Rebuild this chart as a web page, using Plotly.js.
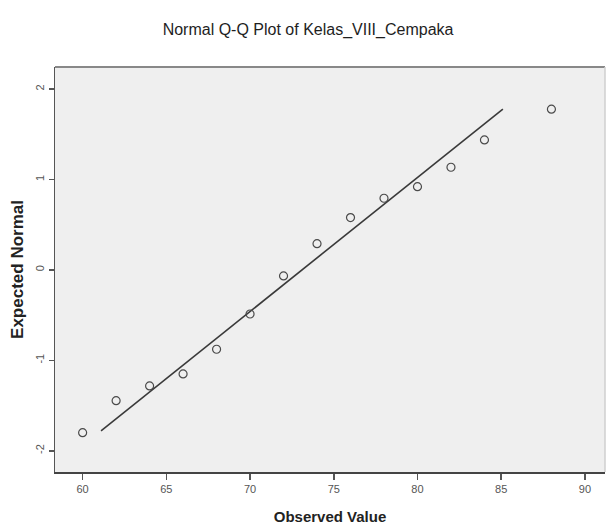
<!DOCTYPE html>
<html>
<head>
<meta charset="utf-8">
<script src="https://cdn.plot.ly/plotly-3.0.1.min.js"></script>
<style>html,body{margin:0;padding:0;background:#fff;}#chart{width:610px;height:529px;}</style>
</head>
<body>
<div id="chart"></div>
<script>
// Observed values (x) and expected normal values (y)
const observedValues = [60, 62, 64, 66, 68, 70, 72, 74, 76, 78, 80, 82, 84, 88];
const expectedNormal = [-1.80, -1.446, -1.283, -1.150, -0.877, -0.487, -0.066, 0.291, 0.579, 0.793, 0.921, 1.136, 1.438, 1.778];
// Reference line end points
const lineX = [61.1, 85.1];
const lineY = [-1.78, 1.78];
const xTickVals = [60, 65, 70, 75, 80, 85, 90];
const yTickVals = [-2, -1, 0, 1, 2];
const titleText = "Normal Q-Q Plot of Kelas_VIII_Cempaka";
const xTitle = "Observed Value";
const yTitle = "Expected Normal";

const font = "Arial, 'Liberation Sans', sans-serif";

const traces = [
  {
    x: lineX, y: lineY, type: "scatter", mode: "lines",
    line: {color: "#3a3a3a", width: 1.6}, hoverinfo: "skip", showlegend: false
  },
  {
    x: observedValues, y: expectedNormal, type: "scatter", mode: "markers",
    marker: {symbol: "circle-open", size: 8, color: "#4a4a4a", line: {color: "#4a4a4a", width: 1.2}},
    showlegend: false
  }
];

const layout = {
  width: 610, height: 529,
  margin: {l: 55, r: 5, t: 67, b: 57},
  paper_bgcolor: "#ffffff",
  plot_bgcolor: "#efefef",
  title: {text: titleText, font: {family: font, size: 16, color: "#1e1e1e"}, x: 0.505, xanchor: "center", y: 0.945, yanchor: "middle"},
  xaxis: {
    range: [58.35, 91.2], tickvals: xTickVals, ticktext: xTickVals.map(String),
    showgrid: false, zeroline: false, showline: true, linecolor: "#444", linewidth: 2,
    ticks: "outside", ticklen: 6, tickwidth: 1.5, tickcolor: "#555",
    tickfont: {family: font, size: 11, color: "#555"},
    title: {text: xTitle, font: {family: font, size: 15, color: "#222", weight: "bold"}, standoff: 17},
    fixedrange: true
  },
  yaxis: {
    range: [-2.235, 2.245], tickvals: yTickVals, ticktext: yTickVals.map(String),
    showgrid: false, zeroline: false, showline: true, linecolor: "#555", linewidth: 1.5,
    ticks: "outside", ticklen: 5, tickwidth: 1.5, tickcolor: "#555",
    tickangle: -90,
    tickfont: {family: font, size: 11, color: "#555"},
    title: {text: yTitle, font: {family: font, size: 17, color: "#222", weight: "bold"}, standoff: 6},
    fixedrange: true
  },
  shapes: [
    {type: "line", xref: "paper", yref: "paper", x0: 0, x1: 1, y0: 1, y1: 1, line: {color: "#888", width: 2}},
    {type: "line", xref: "paper", yref: "paper", x0: 1, x1: 1, y0: 0, y1: 1, line: {color: "#cfcfcf", width: 1.5}}
  ]
};

Plotly.newPlot("chart", traces, layout, {displayModeBar: false, staticPlot: true});
</script>
</body>
</html>
